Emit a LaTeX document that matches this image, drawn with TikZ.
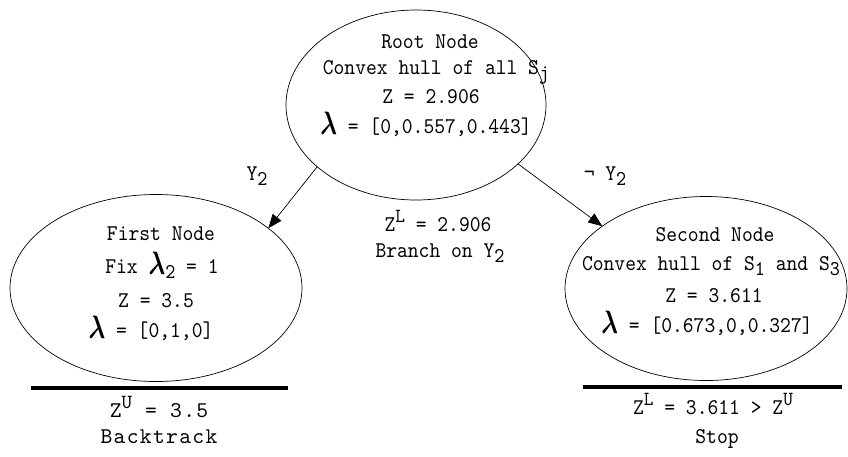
\documentclass[tikz,border=0pt]{standalone}
\usepackage{fontspec}
\usepackage{amsmath}
\usetikzlibrary{shapes.geometric,arrows.meta}

% typewriter faces: a slightly condensed one for the labels, a spaced one for the backtrack note
\newfontfamily\lbfont[FakeStretch=0.915]{lmmono10-regular.otf}
\newfontfamily\widefont[LetterSpace=5.8]{lmmono10-regular.otf}

% lowered index, raised bound, large lambda
\newcommand\lowr[1]{\raisebox{-0.26em}{\fontsize{21}{21}\selectfont #1}}
\newcommand\highr[1]{\raisebox{0.38em}{\fontsize{20}{20}\selectfont #1}}
\newcommand\lam{\raisebox{-0.05em}{\scalebox{1}[1.3]{\fontsize{23}{23}\selectfont$\boldsymbol{\lambda}$}}}

\begin{document}
\begin{tikzpicture}[x=1pt,y=-1pt,
  every node/.style={inner sep=0pt,outer sep=0pt},
  bubble/.style={draw,ellipse,line width=0.7pt,inner sep=0pt,outer sep=0pt},
  lbl/.style={anchor=base,font=\lbfont\fontsize{22.5}{22.5}\selectfont},
  wide/.style={anchor=base,font=\widefont\fontsize{22.5}{22.5}\selectfont},
  link/.style={line width=0.7pt,-{Triangle[length=14pt,width=11pt]}},
  bar/.style={line width=4pt}]
\useasboundingbox (0,0) rectangle (848,456);

% tree nodes
\node[bubble,minimum width=260pt,minimum height=190pt] (root) at (416,105) {};
\node[bubble,minimum width=292pt,minimum height=187pt] (first) at (156,288) {};
\node[bubble,minimum width=282pt,minimum height=184pt] (second) at (706,288.5) {};

% root contents
\node[lbl] (r1) at (430,48) {Root Node};
\node[lbl] (r2) at (436,74) {Convex hull of all S\lowr{j}};
\node[lbl] (r3) at (431,103) {Z = 2.906};
\node[lbl] (r4) at (426,133) {\lam{} = [0,0.557,0.443]};

% first node contents
\node[lbl] (f1) at (161,240) {First Node};
\node[lbl] (f2) at (162,273) {Fix \lam\lowr{2} = 1};
\node[lbl] (f3) at (156,307) {Z = 3.5};
\node[lbl] (f4) at (151,337) {\lam{} = [0,1,0]};

% second node contents
\node[lbl] (s1) at (715,241) {Second Node};
\node[lbl] (s2) at (711,270) {Convex hull of S\lowr{1} and S\lowr{3}};
\node[lbl] (s3) at (714,302) {Z = 3.611};
\node[lbl] (s4) at (707,332) {\lam{} = [0.673,0,0.327]};

% branches
\draw[link] (root.212.9) -- (first.28.8);
\draw[link] (root.330.6) -- (second.149.6);
\node[lbl] (yl) at (257,180) {Y\lowr{2}};
\node[lbl] (yr) at (605,180) {¬ Y\lowr{2}};
\node[lbl] (m1) at (438,231) {Z\highr{L} = 2.906};
\node[lbl] (m2) at (440,257) {Branch on Y\lowr{2}};

% fathoming bars
\coordinate (la) at (31,388);
\coordinate (lb) at (288,388);
\coordinate (ra) at (583,387);
\coordinate (rb) at (842,387);
\draw[bar] (la) -- (lb);
\draw[bar] (ra) -- (rb);

\node[wide] (b1) at (159,417) {Z\highr{U} = 3.5};
\node[wide] (b2) at (159,443) {Backtrack};
\node[lbl] (c1) at (713,414) {Z\highr{L} = 3.611 > Z\highr{U}};
\node[lbl] (c2) at (717,443) {Stop};
\end{tikzpicture}
\end{document}
